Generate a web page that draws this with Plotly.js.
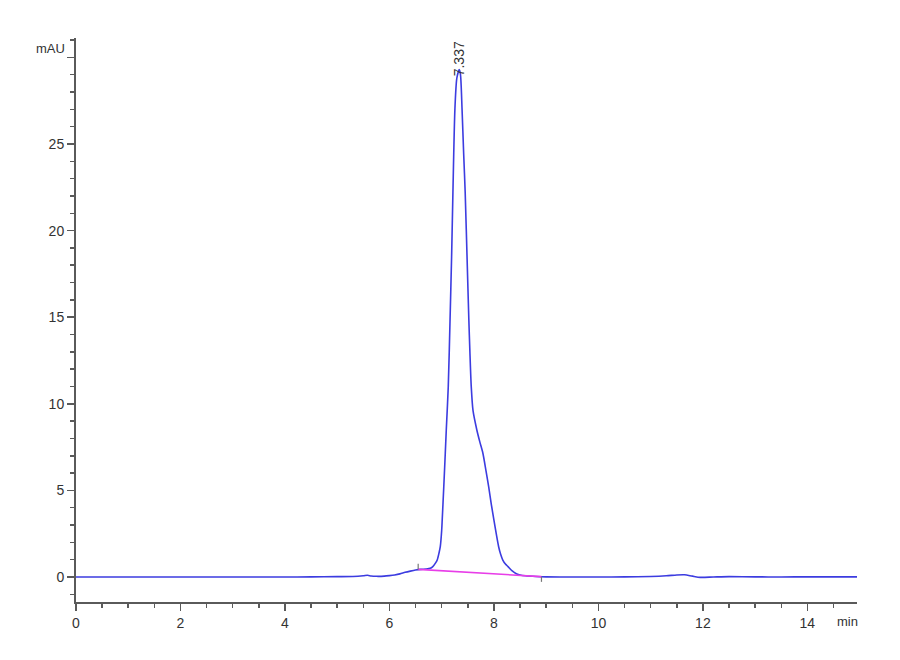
<!DOCTYPE html>
<html>
<head>
<meta charset="utf-8">
<script src="https://cdn.plot.ly/plotly-3.0.1.min.js"></script>
<style>html,body{margin:0;padding:0;background:#fff;}#chart{width:900px;height:660px;}</style>
</head>
<body>
<div id="chart"></div>
<script>
// Retention time (min) and absorbance (mAU)
const time = [0, 1, 2, 3, 4, 4.5, 5, 5.3, 5.5, 5.58, 5.65, 5.75, 5.9, 6.0, 6.1, 6.2, 6.3, 6.4, 6.5, 6.6, 6.7, 6.78, 6.83, 6.88, 6.916, 6.95, 6.973, 7.0, 7.01, 7.04, 7.069, 7.088, 7.126, 7.16, 7.19, 7.215, 7.253, 7.29, 7.337, 7.36, 7.39, 7.42, 7.45, 7.49, 7.52, 7.54, 7.566, 7.6, 7.673, 7.73, 7.788, 7.85, 7.90, 7.95, 8.0, 8.05, 8.09, 8.13, 8.17, 8.22, 8.27, 8.35, 8.42, 8.5, 8.6, 8.8, 9.0, 9.5, 10, 10.5, 11, 11.3, 11.5, 11.65, 11.8, 11.95, 12.2, 12.5, 13, 13.5, 14, 14.95];
const absorbance = [0, 0, 0, 0, 0, 0.01, 0.02, 0.03, 0.07, 0.1, 0.06, 0.04, 0.05, 0.08, 0.12, 0.18, 0.27, 0.34, 0.4, 0.44, 0.46, 0.5, 0.6, 0.8, 1.0, 1.4, 1.75, 2.7, 3.29, 5.21, 7.16, 8.49, 10.99, 14.84, 18.5, 22.2, 27.0, 28.8, 29.3, 29.0, 27.0, 24.5, 22.2, 18.0, 14.84, 13.0, 10.99, 9.6, 8.49, 7.8, 7.16, 6.1, 5.21, 4.2, 3.29, 2.4, 1.75, 1.3, 0.98, 0.75, 0.6, 0.35, 0.2, 0.12, 0.07, 0.03, 0.01, 0.0, 0.0, 0.01, 0.03, 0.07, 0.12, 0.13, 0.05, -0.02, 0.0, 0.02, 0.01, 0.0, 0.01, 0.01];

// Integration baseline (start, end)
const baselineTime = [6.55, 8.91];
const baselineValue = [0.44, 0.02];
const peakTime = 7.337;
const peakHeight = 29.3;
const peakLabel = "7.337";

const xTickVals = [0, 2, 4, 6, 8, 10, 12, 14];
const yTickVals = [0, 5, 10, 15, 20, 25, 30];
const yTickText = ["0", "5", "10", "15", "20", "25", ""];

const fontFam = "'Liberation Sans Narrow', 'Liberation Sans', Arial, sans-serif";
const axisColor = "#5a5a5a";

const traces = [
  {x: time, y: absorbance, mode: "lines", line: {color: "#3c3ce0", width: 1.6, shape: "spline", smoothing: 0.7}, hoverinfo: "skip"},
  {x: baselineTime, y: baselineValue, mode: "lines", line: {color: "#e83ee8", width: 1.6}, hoverinfo: "skip"},
  {x: [baselineTime[0], baselineTime[0]], y: [baselineValue[0], baselineValue[0] + 0.32], mode: "lines", line: {color: "#777", width: 1.2}, hoverinfo: "skip"},
  {x: [baselineTime[1], baselineTime[1]], y: [baselineValue[1], baselineValue[1] - 0.3], mode: "lines", line: {color: "#777", width: 1.2}, hoverinfo: "skip"}
];

const layout = {
  width: 900, height: 660,
  margin: {l: 76, r: 43, t: 38, b: 58},
  paper_bgcolor: "#fff", plot_bgcolor: "#fff",
  showlegend: false,
  font: {family: fontFam, size: 14, color: "#333"},
  xaxis: {
    range: [0, 14.95], showgrid: false, zeroline: false,
    showline: true, linecolor: axisColor, linewidth: 2,
    ticks: "outside", ticklen: 7, tickwidth: 1.5, tickcolor: axisColor,
    tickvals: xTickVals, ticktext: xTickVals.map(String),
    minor: {dtick: 0.5, tick0: 0, ticks: "outside", ticklen: 4, tickwidth: 1.5, tickcolor: axisColor, showgrid: false},
    tickfont: {family: fontFam, size: 14, color: "#333"}
  },
  yaxis: {
    range: [-1.443, 31.12], showgrid: false, zeroline: false,
    showline: true, linecolor: axisColor, linewidth: 2,
    ticks: "outside", ticklen: 7, tickwidth: 1.5, tickcolor: axisColor,
    tickvals: yTickVals, ticktext: yTickText,
    minor: {dtick: 1, tick0: 0, ticks: "outside", ticklen: 4, tickwidth: 1.5, tickcolor: axisColor, showgrid: false},
    tickfont: {family: fontFam, size: 14, color: "#333"}
  },
  annotations: [
    {xref: "paper", yref: "y", x: 0, y: 30.5, xanchor: "right", yanchor: "middle", xshift: -9, text: "mAU", showarrow: false, font: {family: fontFam, size: 13, color: "#333"}},
    {xref: "paper", yref: "paper", x: 1, y: 0, xanchor: "right", yanchor: "top", yshift: -10, xshift: 3, text: "min", showarrow: false, font: {family: fontFam, size: 13, color: "#333"}},
    {xref: "x", yref: "y", x: peakTime, y: peakHeight, xanchor: "center", yanchor: "bottom", yshift: -9, text: peakLabel, textangle: -90, showarrow: false, font: {family: fontFam, size: 14, color: "#333"}}
  ]
};

Plotly.newPlot("chart", traces, layout, {displayModeBar: false, staticPlot: true});
</script>
</body>
</html>
